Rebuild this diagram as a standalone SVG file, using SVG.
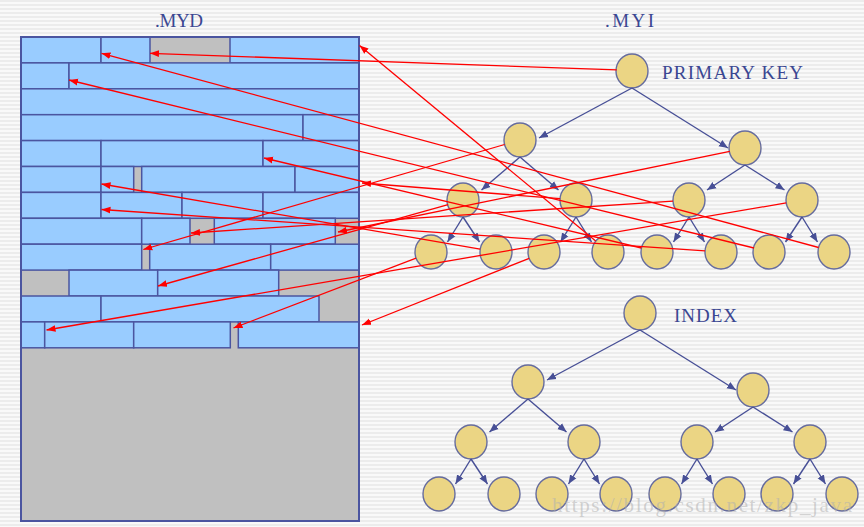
<svg xmlns="http://www.w3.org/2000/svg" width="864" height="527" viewBox="0 0 864 527">
<style>
.c{fill:#99ccff;stroke:#4b55a0;stroke-width:1.5}
.n{fill:#ebd584;stroke:#666c9e;stroke-width:1.4}
.t{font-family:"Liberation Serif","Times New Roman",serif;font-size:19px;fill:#3b4792}
.r{fill:none;stroke:#ff0000;stroke-width:1.3;marker-end:url(#ar)}
.b{fill:none;stroke:#474f96;stroke-width:1.4;marker-end:url(#ab)}
</style>
<defs>
<pattern id="bg" width="8" height="4" patternUnits="userSpaceOnUse">
<rect width="8" height="4" fill="#f9f9f9"/>
<rect width="8" height="2" fill="#ececec"/>
</pattern>
<marker id="ar" markerUnits="userSpaceOnUse" markerWidth="10" markerHeight="8" refX="9" refY="4" orient="auto"><path d="M0,0.6 L9,4 L0,7.4 z" fill="#ff0000"/></marker>
<marker id="ab" markerUnits="userSpaceOnUse" markerWidth="10" markerHeight="9" refX="9" refY="4.5" orient="auto"><path d="M0,0.8 L9,4.5 L0,8.2 z" fill="#474f96"/></marker>
</defs>
<rect width="864" height="527" fill="url(#bg)"/>

<g id="labels">
<text class="t" x="155" y="27.3" textLength="48" lengthAdjust="spacing">.MYD</text>
<text class="t" x="605" y="27.3" textLength="49" lengthAdjust="spacing">.MYI</text>
<text class="t" x="662" y="79" textLength="141" lengthAdjust="spacing">PRIMARY KEY</text>
<text class="t" x="674" y="321.7" textLength="63" lengthAdjust="spacing">INDEX</text>
</g>

<g id="myd">
<rect x="21" y="37" width="338" height="484" fill="#c0c0c0"/>
<rect class="c" x="21" y="37" width="80" height="25.9"/>
<rect class="c" x="101" y="37" width="49" height="25.9"/>
<rect class="c" x="230" y="37" width="129" height="25.9"/>
<rect class="c" x="21" y="62.9" width="48" height="25.9"/>
<rect class="c" x="69" y="62.9" width="290" height="25.9"/>
<rect class="c" x="21" y="88.8" width="338" height="25.9"/>
<rect class="c" x="21" y="114.7" width="282" height="25.9"/>
<rect class="c" x="303" y="114.7" width="56" height="25.9"/>
<rect class="c" x="21" y="140.6" width="80" height="25.9"/>
<rect class="c" x="101" y="140.6" width="162" height="25.9"/>
<rect class="c" x="263" y="140.6" width="96" height="25.9"/>
<rect class="c" x="21" y="166.5" width="80" height="25.9"/>
<rect class="c" x="101" y="166.5" width="32.7" height="25.9"/>
<rect class="c" x="141.7" y="166.5" width="153.3" height="25.9"/>
<rect class="c" x="295" y="166.5" width="64" height="25.9"/>
<rect class="c" x="21" y="192.4" width="80" height="25.9"/>
<rect class="c" x="101" y="192.4" width="81" height="25.9"/>
<rect class="c" x="182" y="192.4" width="81" height="25.9"/>
<rect class="c" x="263" y="192.4" width="96" height="25.9"/>
<rect class="c" x="21" y="218.3" width="120.7" height="25.9"/>
<rect class="c" x="141.7" y="218.3" width="48.3" height="25.9"/>
<rect class="c" x="214.3" y="218.3" width="121" height="25.9"/>
<rect class="c" x="21" y="244.2" width="120.7" height="25.9"/>
<rect class="c" x="149.7" y="244.2" width="121" height="25.9"/>
<rect class="c" x="270.7" y="244.2" width="88.3" height="25.9"/>
<rect class="c" x="69" y="270.1" width="88.7" height="25.9"/>
<rect class="c" x="157.7" y="270.1" width="121" height="25.9"/>
<rect class="c" x="21" y="296" width="80" height="25.9"/>
<rect class="c" x="101" y="296" width="218" height="25.9"/>
<rect class="c" x="21" y="321.9" width="23.7" height="25.9"/>
<rect class="c" x="44.7" y="321.9" width="89" height="25.9"/>
<rect class="c" x="133.7" y="321.9" width="96.6" height="25.9"/>
<rect class="c" x="238.3" y="321.9" width="120.7" height="25.9"/>
<rect x="21" y="37" width="338" height="484" fill="none" stroke="#4b55a0" stroke-width="2"/>
</g>

<g id="pk-root"><ellipse class="n" cx="632" cy="71" rx="16" ry="17"/></g>
<g id="pk-1a"><ellipse class="n" cx="520" cy="140" rx="16" ry="17"/></g>
<g id="pk-1b"><ellipse class="n" cx="745" cy="148" rx="16" ry="17"/></g>
<g id="pk-2a"><ellipse class="n" cx="463" cy="200" rx="16" ry="17"/></g>
<g id="pk-2b"><ellipse class="n" cx="576" cy="200" rx="16" ry="17"/></g>
<g id="pk-2c"><ellipse class="n" cx="689" cy="200" rx="16" ry="17"/></g>
<g id="pk-2d"><ellipse class="n" cx="802" cy="200" rx="16" ry="17"/></g>
<g id="pk-3a"><ellipse class="n" cx="431" cy="252" rx="16" ry="17"/></g>
<g id="pk-3b"><ellipse class="n" cx="496" cy="252" rx="16" ry="17"/></g>
<g id="pk-3c"><ellipse class="n" cx="544" cy="252" rx="16" ry="17"/></g>
<g id="pk-3d"><ellipse class="n" cx="608" cy="252" rx="16" ry="17"/></g>
<g id="pk-3e"><ellipse class="n" cx="657" cy="252" rx="16" ry="17"/></g>
<g id="pk-3f"><ellipse class="n" cx="721" cy="252" rx="16" ry="17"/></g>
<g id="pk-3g"><ellipse class="n" cx="769" cy="252" rx="16" ry="17"/></g>
<g id="pk-3h"><ellipse class="n" cx="834" cy="252" rx="16" ry="17"/></g>

<g id="ix-root"><ellipse class="n" cx="640" cy="313" rx="16" ry="17"/></g>
<g id="ix-1a"><ellipse class="n" cx="528" cy="382" rx="16" ry="17"/></g>
<g id="ix-1b"><ellipse class="n" cx="753" cy="390" rx="16" ry="17"/></g>
<g id="ix-2a"><ellipse class="n" cx="471" cy="442" rx="16" ry="17"/></g>
<g id="ix-2b"><ellipse class="n" cx="584" cy="442" rx="16" ry="17"/></g>
<g id="ix-2c"><ellipse class="n" cx="697" cy="442" rx="16" ry="17"/></g>
<g id="ix-2d"><ellipse class="n" cx="810" cy="442" rx="16" ry="17"/></g>
<g id="ix-3a"><ellipse class="n" cx="439" cy="494" rx="16" ry="17"/></g>
<g id="ix-3b"><ellipse class="n" cx="504" cy="494" rx="16" ry="17"/></g>
<g id="ix-3c"><ellipse class="n" cx="552" cy="494" rx="16" ry="17"/></g>
<g id="ix-3d"><ellipse class="n" cx="616" cy="494" rx="16" ry="17"/></g>
<g id="ix-3e"><ellipse class="n" cx="665" cy="494" rx="16" ry="17"/></g>
<g id="ix-3f"><ellipse class="n" cx="729" cy="494" rx="16" ry="17"/></g>
<g id="ix-3g"><ellipse class="n" cx="777" cy="494" rx="16" ry="17"/></g>
<g id="ix-3h"><ellipse class="n" cx="842" cy="494" rx="16" ry="17"/></g>

<g id="connectors">
<path class="b" d="M632,88 L539,138"/>
<path class="b" d="M632,88 L728,148"/>
<path class="b" d="M520,157 L481.5,190"/>
<path class="b" d="M520,157 L558.5,190"/>
<path class="b" d="M745,165 L707,190"/>
<path class="b" d="M745,165 L784.5,190"/>
<path class="b" d="M463,217 L447.5,242"/>
<path class="b" d="M463,217 L479.5,242"/>
<path class="b" d="M576,217 L560.5,242"/>
<path class="b" d="M576,217 L591.5,242"/>
<path class="b" d="M689,217 L673.5,242"/>
<path class="b" d="M689,217 L704.5,242"/>
<path class="b" d="M802,217 L785.5,242"/>
<path class="b" d="M802,217 L817.5,242"/>

<path class="b" d="M640,330 L547,380"/>
<path class="b" d="M640,330 L736,390"/>
<path class="b" d="M528,399 L489.5,432"/>
<path class="b" d="M528,399 L566.5,432"/>
<path class="b" d="M753,407 L715,432"/>
<path class="b" d="M753,407 L792.5,432"/>
<path class="b" d="M471,459 L455.5,484"/>
<path class="b" d="M471,459 L487.5,484"/>
<path class="b" d="M584,459 L568.5,484"/>
<path class="b" d="M584,459 L599.5,484"/>
<path class="b" d="M697,459 L681.5,484"/>
<path class="b" d="M697,459 L712.5,484"/>
<path class="b" d="M810,459 L793.5,484"/>
<path class="b" d="M810,459 L825.5,484"/>

<path class="r" d="M616.7,69.9 L150,53.3"/>
<path class="r" d="M504.6,144.5 L143.3,249.5"/>
<path class="r" d="M729.8,151.4 L338,232"/>
<path class="r" d="M448.1,204.6 L158,286"/>
<path class="r" d="M560.1,198.7 L362,183"/>
<path class="r" d="M673,201.1 L191,233"/>
<path class="r" d="M786.2,202.9 L46.5,330"/>
<path class="r" d="M416.1,258.1 L233.5,328"/>
<path class="r" d="M480.2,249.1 L101.5,184"/>
<path class="r" d="M529.2,258.3 L362,325"/>
<path class="r" d="M595.7,241.1 L359.5,45.5"/>
<path class="r" d="M641.4,248 L264,158"/>
<path class="r" d="M705,250.8 L101.5,209.5"/>
<path class="r" d="M754,248 L69,80"/>
<path class="r" d="M818.6,247.5 L101.5,53.3"/>
</g>

<text x="552" y="512" textLength="300" lengthAdjust="spacing" style="font-family:'Liberation Serif',serif;font-size:21px;fill:#b0b0b0;fill-opacity:0.55">https://blog.csdn.net/zkp_java</text>
</svg>
